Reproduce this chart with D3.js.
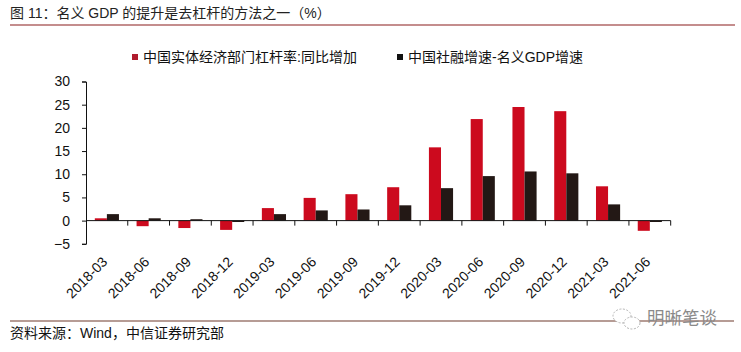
<!DOCTYPE html>
<html>
<head>
<meta charset="utf-8">
<script src="https://cdn.jsdelivr.net/npm/d3@7"></script>
<style>
  body { margin: 0; background: #fff; }
  svg { display: block; font-family: "Liberation Sans", Arial, "Noto Sans CJK SC", sans-serif; }
</style>
</head>
<body>
<div id="chart"></div>
<script>
// categories and the two series
const categories = ["2018-03", "2018-06", "2018-09", "2018-12", "2019-03", "2019-06", "2019-09",
                    "2019-12", "2020-03", "2020-06", "2020-09", "2020-12", "2021-03", "2021-06"];
const leverage = [0.5, -1.2, -1.6, -2.0, 2.7, 4.9, 5.7, 7.2, 15.8, 21.9, 24.5, 23.6, 7.4, -2.2];
const tsfGap = [1.4, 0.5, 0.3, -0.3, 1.4, 2.2, 2.4, 3.3, 7.0, 9.6, 10.6, 10.2, 3.5, -0.3];
const seriesNames = ["中国实体经济部门杠杆率:同比增加", "中国社融增速-名义GDP增速"];
const yTicks = [-5, 0, 5, 10, 15, 20, 25, 30];

const width = 741, height = 352,
      margin = ({ top: 81.5, right: 72, bottom: 108.2, left: 86 });
const colors = ["#cc0a1e", "#231815"];

const svg = d3.select("#chart")
    .append("svg")
    .attr("width", width)
    .attr("height", height);

// title + rule under it
svg.append("text")
    .attr("x", 10).attr("y", 18)
    .attr("font-size", 14).attr("fill", "#222")
    .text("图 11：名义 GDP 的提升是去杠杆的方法之一（%）");
svg.append("line")
    .attr("x1", 10).attr("x2", 735).attr("y1", 25).attr("y2", 25)
    .attr("stroke", "#8a1c1c").attr("stroke-width", 1.2);

let x = d3.scaleBand()
    .domain(categories)
    .range([margin.left, width - margin.right + 1.7]);

let xs = d3.scaleBand() // position of the two bars inside a month
    .domain([0, 1])
    .range([0, x.bandwidth()])
    .paddingInner(0)
    .paddingOuter(0.73);

let y = d3.scaleLinear()
    .domain([-5, 30])
    .range([height - margin.bottom, margin.top]);

// y axis
svg.append("g")
    .attr("transform", `translate(${margin.left},0)`)
    .call(d3.axisLeft(y).tickValues(yTicks).tickSize(4).tickPadding(12))
    .call(g => g.selectAll("text").attr("font-size", 14).attr("fill", "#111").attr("font-family", null))
    .call(g => g.selectAll("line, path").attr("stroke", "#111"));

// bars
const data = categories.map((c, i) => ({ cat: c, vals: [leverage[i], tsfGap[i]] }));

let group = svg.selectAll(".grp")
    .data(data)
    .join("g")
    .attr("class", "grp")
    .attr("transform", d => `translate(${x(d.cat)},0)`);

group.selectAll("rect")
    .data(d => d.vals.map((v, k) => ({ k, v })))
    .join("rect")
    .attr("x", d => xs(d.k))
    .attr("width", xs.bandwidth())
    .attr("y", d => y(Math.max(0, d.v)))
    .attr("height", d => Math.abs(y(d.v) - y(0)))
    .attr("fill", d => colors[d.k]);

// x axis on zero line, ticks at band edges
const xAxis = svg.append("g");
xAxis.append("line")
    .attr("x1", margin.left).attr("x2", x.range()[1])
    .attr("y1", y(0)).attr("y2", y(0))
    .attr("stroke", "#111");
xAxis.selectAll(".tk")
    .data(categories.slice(1).map(c => x(c)).concat([x.range()[1]]))
    .join("line")
    .attr("class", "tk")
    .attr("x1", d => d).attr("x2", d => d)
    .attr("y1", y(0)).attr("y2", y(0) + 5)
    .attr("stroke", "#111");

// rotated category labels below the plot
svg.selectAll(".xl")
    .data(categories)
    .join("text")
    .attr("class", "xl")
    .attr("transform", d => `translate(${x(d) + x.bandwidth() / 2 + 1.5},${y(-5) + 19}) rotate(-45)`)
    .attr("text-anchor", "end")
    .attr("font-size", 14)
    .attr("fill", "#111")
    .text(d => d);

// legend
const legendX = [132, 397];
const legend = svg.selectAll(".lg")
    .data(seriesNames)
    .join("g")
    .attr("class", "lg")
    .attr("transform", (d, i) => `translate(${legendX[i]},57)`);
legend.append("rect")
    .attr("x", 0).attr("y", -3).attr("width", 6).attr("height", 6)
    .attr("fill", (d, i) => i === 0 ? "#b01c2e" : "#111");
legend.append("text")
    .attr("x", 11).attr("y", 5)
    .attr("font-size", 14).attr("fill", "#111")
    .text(d => d);

// footer rule, source and watermark
svg.append("line")
    .attr("x1", 10).attr("x2", 734).attr("y1", 321).attr("y2", 321)
    .attr("stroke", "#6e3a2c").attr("stroke-width", 1.2);
svg.append("text")
    .attr("x", 10).attr("y", 338)
    .attr("font-size", 14).attr("fill", "#111")
    .text("资料来源：Wind，中信证券研究部");

const wm = svg.append("g").attr("transform", "translate(612,318)");
wm.append("ellipse").attr("cx", 10).attr("cy", -2).attr("rx", 9).attr("ry", 7)
    .attr("fill", "#fff").attr("stroke", "#b5b5b5").attr("stroke-dasharray", "2,1.5");
wm.append("ellipse").attr("cx", 20).attr("cy", 5).attr("rx", 8).attr("ry", 6)
    .attr("fill", "#fff").attr("stroke", "#b5b5b5").attr("stroke-dasharray", "2,1.5");
wm.append("text")
    .attr("x", 35).attr("y", 6)
    .attr("font-size", 17.5).attr("fill", "#8a8a8a")
    .attr("font-family", "Noto Sans CJK SC")
    .text("明晰笔谈");
</script>
</body>
</html>
